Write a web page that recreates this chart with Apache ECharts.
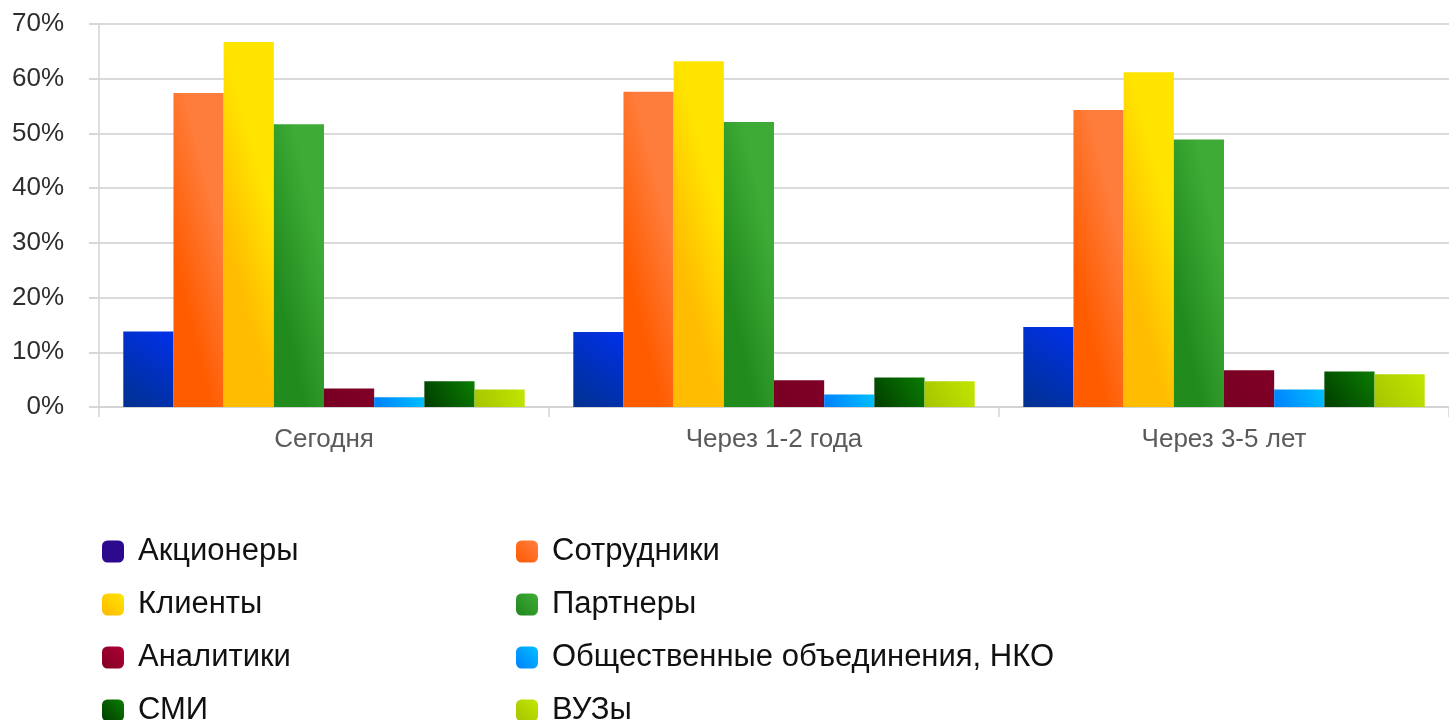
<!DOCTYPE html>
<html>
<head>
<meta charset="utf-8">
<script src="https://cdn.jsdelivr.net/npm/echarts@6/dist/echarts.min.js"></script>
<style>
  html, body { margin: 0; padding: 0; background: #fff; }
  #chart { width: 1449px; height: 720px; }
</style>
</head>
<body>
<div id="chart"></div>
<script>
// Periods on the category axis
const categories = ['Сегодня', 'Через 1-2 года', 'Через 3-5 лет'];

// Share of respondents per stakeholder group, %
const shareholders = [13.8, 13.7, 14.6];
const employees    = [57.4, 57.6, 54.3];
const clients      = [66.7, 63.2, 61.2];
const partners     = [51.7, 52.1, 48.9];
const analysts     = [3.4, 4.9, 6.7];
const ngos         = [1.8, 2.3, 3.2];
const media        = [4.7, 5.4, 6.5];
const universities = [3.2, 4.7, 6.0];

// Y-axis tick values
const yTicks = [0, 10, 20, 30, 40, 50, 60, 70];

const seriesNames = ['Акционеры', 'Сотрудники', 'Клиенты', 'Партнеры',
  'Аналитики', 'Общественные объединения, НКО', 'СМИ', 'ВУЗы'];
const seriesData = [shareholders, employees, clients, partners, analysts, ngos, media, universities];

const G = echarts.graphic.LinearGradient;
// diagonal gradient (bottom-left dark -> top-right light) for short bars
const diag = (a, b) => new G(0, 1, 1, 0, [{ offset: 0, color: a }, { offset: 1, color: b }]);
// mostly horizontal gradient, slightly tilted, for tall bars
const horiz = (a, b) => new G(0, 0.52, 1, 0.48, [{ offset: 0, color: a }, { offset: 1, color: b }]);

const barFills = [
  diag('#00318f', '#0030ea'),
  horiz('#ff5c00', '#ff7d3c'),
  horiz('#ffbc00', '#ffe400'),
  horiz('#228b1e', '#3eab36'),
  diag('#780022', '#800026'),
  diag('#0080ff', '#00c0ff'),
  diag('#003d00', '#0b7d00'),
  diag('#a6c400', '#c2e600')
];

const legendFills = [
  '#2b0a8e',
  diag('#ff5a00', '#ff7f40'),
  diag('#ffb800', '#ffe600'),
  diag('#22871e', '#3fac37'),
  diag('#800022', '#b00034'),
  diag('#0080ff', '#00c0ff'),
  diag('#003d00', '#0b7d00'),
  diag('#a6c400', '#c2e600')
];

const series = seriesNames.map((name, i) => ({
  name,
  type: 'bar',
  data: seriesData[i],
  barGap: '0%',
  barCategoryGap: '10.8%',
  itemStyle: { color: barFills[i] }
}));

const legendBase = {
  orient: 'vertical',
  icon: 'roundRect',
  padding: 0,
  itemWidth: 22,
  itemHeight: 22,
  itemGap: 22,
  top: 536,
  height: 300,
  textStyle: {
    fontFamily: 'Liberation Sans, Arial, sans-serif',
    fontSize: 31,
    lineHeight: 31,
    color: '#111',
    padding: [0, 0, 0, 9]
  }
};
const legendItem = i => ({ name: seriesNames[i], itemStyle: { color: legendFills[i] } });

const chart = echarts.init(document.getElementById('chart'), null, { renderer: 'canvas' });
chart.setOption({
  animation: false,
  backgroundColor: '#ffffff',
  grid: { left: 99, right: -6, top: 24, bottom: 313, containLabel: false },
  legend: [
    Object.assign({}, legendBase, { left: 102, data: [0, 2, 4, 6].map(legendItem) }),
    Object.assign({}, legendBase, { left: 516, data: [1, 3, 5, 7].map(legendItem) })
  ],
  xAxis: {
    type: 'category',
    data: categories,
    boundaryGap: true,
    axisLine: { show: true, lineStyle: { color: '#d4d4d4', width: 2 } },
    axisTick: { show: true, length: 10, lineStyle: { color: '#d4d4d4', width: 1.5 } },
    axisLabel: {
      margin: 20,
      fontFamily: 'Liberation Sans, Arial, sans-serif',
      fontSize: 26,
      color: '#5a5a5a'
    }
  },
  yAxis: {
    type: 'value',
    min: yTicks[0],
    max: yTicks[yTicks.length - 1],
    interval: 10,
    axisLine: { show: true, lineStyle: { color: '#d4d4d4', width: 1.5 } },
    axisTick: { show: true, length: 10, lineStyle: { color: '#d8d8d8', width: 2 } },
    splitLine: { show: true, lineStyle: { color: '#dadada', width: 2 } },
    axisLabel: {
      margin: 35,
      formatter: '{value}%',
      fontFamily: 'Liberation Sans, Arial, sans-serif',
      fontSize: 26,
      color: '#2e2e2e'
    }
  },
  series
});
</script>
</body>
</html>
